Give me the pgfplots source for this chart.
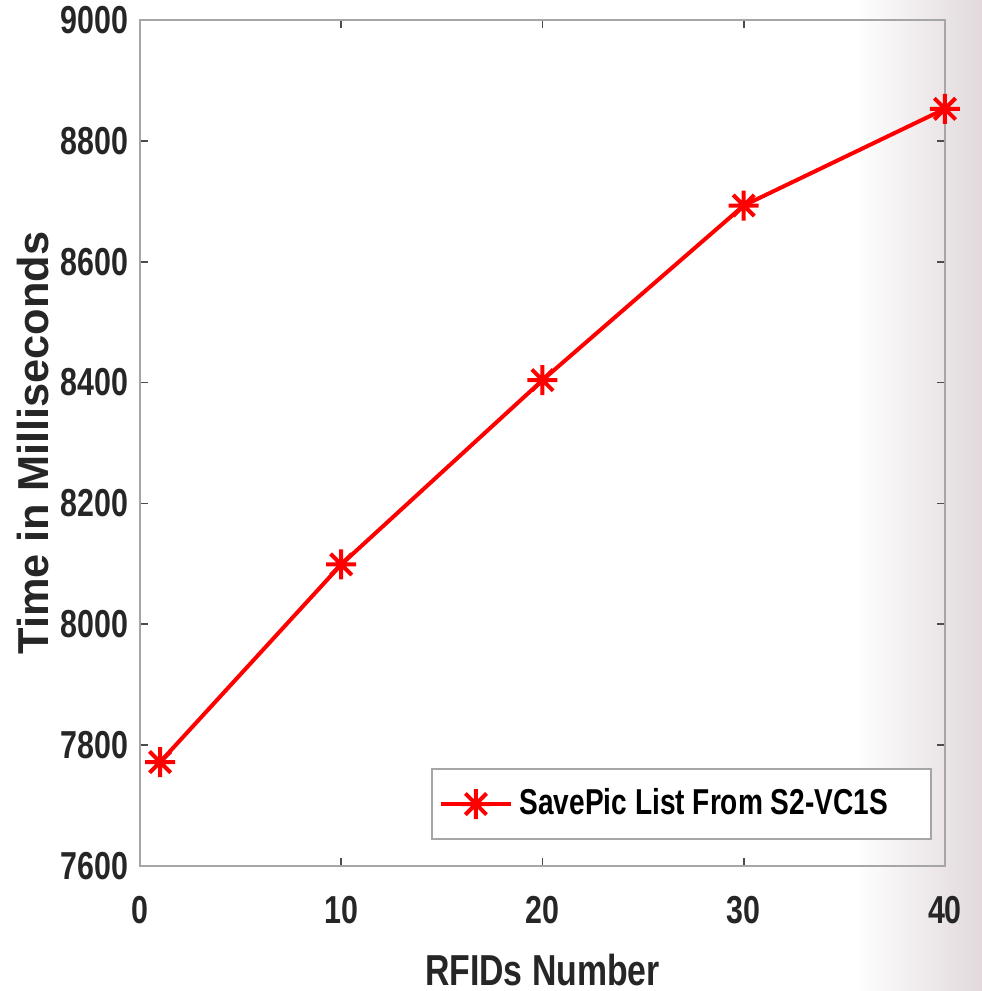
\documentclass[border=0pt]{standalone}
\usepackage{pgfplots}
\pgfplotsset{compat=1.18}
\usepackage{fontspec}
\setmainfont{Liberation Sans}[FakeStretch=0.78]
\newfontfamily\plainsans{Liberation Sans}
\definecolor{bgc}{RGB}{226,217,220}
\pgfdeclareplotmark{matstar}{%
  \pgfpathmoveto{\pgfqpoint{-\pgfplotmarksize}{0pt}}\pgfpathlineto{\pgfqpoint{\pgfplotmarksize}{0pt}}%
  \pgfpathmoveto{\pgfqpoint{0pt}{-\pgfplotmarksize}}\pgfpathlineto{\pgfqpoint{0pt}{\pgfplotmarksize}}%
  \pgfpathmoveto{\pgfqpoint{-0.7071\pgfplotmarksize}{-0.7071\pgfplotmarksize}}\pgfpathlineto{\pgfqpoint{0.7071\pgfplotmarksize}{0.7071\pgfplotmarksize}}%
  \pgfpathmoveto{\pgfqpoint{-0.7071\pgfplotmarksize}{0.7071\pgfplotmarksize}}\pgfpathlineto{\pgfqpoint{0.7071\pgfplotmarksize}{-0.7071\pgfplotmarksize}}%
  \pgfusepathqstroke}
\pgfplotstableread{
x y
1 7772
10 8099
20 8404
30 8693
40 8853
}\datatab
\begin{document}
\begin{tikzpicture}
\fill[left color=white, right color=bgc] (214.5pt,-37.5pt) rectangle (252.6pt,259.8pt);
\begin{axis}[
  at={(0pt,0pt)}, anchor=south west,
  scale only axis,
  width=241.5pt, height=253.8pt,
  xmin=0, xmax=40, ymin=7600, ymax=9000,
  xtick={0,10,20,30,40},
  ytick={7600,7800,...,9000},
  clip=false,
  tick align=inside,
  major tick length=2.4pt,
  every tick/.style={gray!60!black, line width=0.5pt},
  axis line style={gray!70, line width=0.6pt},
  ticklabel style={font=\fontsize{11.7}{12}\selectfont\bfseries, text=black!85},
  /pgf/number format/assume math mode=true,
  /pgf/number format/1000 sep={},
  xticklabel style={yshift=-5.4pt},
  xlabel={RFIDs Number},
  ylabel={Time in Milliseconds},
  xlabel style={font=\fontsize{13}{14}\selectfont\bfseries, text=black!85, at={(axis description cs:0.5,-0.1229)}, anchor=center},
  ylabel style={font=\plainsans\fontsize{13}{14}\selectfont\bfseries, text=black!85, at={(axis description cs:-0.133,0.5)}, anchor=center},
  legend style={at={(axis description cs:0.984,0.031)}, anchor=south east,
    font=\fontsize{10.8}{12}\selectfont\bfseries, draw=gray!70, line width=0.5pt, fill=white,
    inner xsep=2pt, inner ysep=3.8pt},
  legend cell align=left,
  legend image code/.code={\draw[mark repeat=2,mark phase=2,#1] plot coordinates {(0pt,0pt)(10.5pt,0pt)(21pt,0pt)};},
]
\addplot[red, line width=1.2pt, mark=matstar, mark size=4.5pt, mark options={line width=1.2pt}] table[x=x,y=y] {\datatab};
\addlegendentry{SavePic List From S2-VC1S\rule{9pt}{0pt}}
\end{axis}
\pgfresetboundingbox
\useasboundingbox (-42pt,-37.5pt) rectangle (252.6pt,259.8pt);
\end{tikzpicture}
\end{document}
